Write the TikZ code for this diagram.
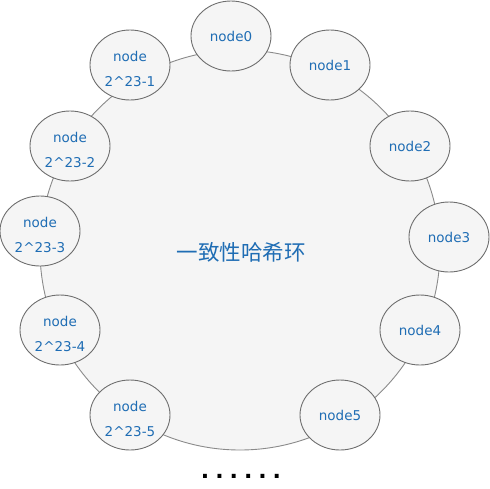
\documentclass[tikz,border=0pt]{standalone}
\usepackage{fontspec}
\usetikzlibrary{shapes.geometric}
\setmainfont{DejaVu Sans}
\newfontfamily\cjk{Noto Sans CJK SC}
\definecolor{txtblue}{HTML}{1F6DB4}
\definecolor{fillgray}{HTML}{F5F5F5}
\definecolor{ringline}{HTML}{8A8A8A}
\definecolor{nodeline}{HTML}{6E6E6E}
\begin{document}
\begin{tikzpicture}[x=1pt,y=-1pt,
  hashnode/.style={ellipse, draw=nodeline, fill=fillgray, line width=0.9pt,
    minimum width=80pt, minimum height=70pt, inner sep=0pt, text=txtblue,
    align=center, font=\fontsize{13.5}{25}\selectfont},
  twoline/.style={text=txtblue, align=center, inner sep=0pt,
    font=\fontsize{13.5}{25}\selectfont},
  ringstyle/.style={circle, draw=ringline, fill=fillgray, line width=0.9pt,
    minimum size=400pt, inner sep=0pt}]
\useasboundingbox (0,0) rectangle (490,488);
\node[ringstyle] (ring) at (240,250) {};
\node[text=txtblue, font=\cjk\fontsize{21.5}{24}\selectfont] (title) at (241,252) {一致性哈希环};
\node[hashnode] (n0) at (231,36) {node0};
\node[hashnode] (n1) at (330,65) {node1};
\node[hashnode] (n2) at (410,146) {node2};
\node[hashnode] (n3) at (449,237) {node3};
\node[hashnode] (n4) at (420,330) {node4};
\node[hashnode] (n5) at (340,415) {node5};
\node[hashnode] (m1) at (130,65) {};
\node[hashnode] (m2) at (70,146) {};
\node[hashnode] (m3) at (40,231) {};
\node[hashnode] (m4) at (60,330) {};
\node[hashnode] (m5) at (130,415) {};
\node[twoline] (t1) at ([yshift=-4pt]m1.center) {node\\2\textasciicircum23-1};
\node[twoline] (t2) at ([yshift=-4pt]m2.center) {node\\2\textasciicircum23-2};
\node[twoline] (t3) at ([yshift=-4pt]m3.center) {node\\2\textasciicircum23-3};
\node[twoline] (t4) at ([yshift=-4pt]m4.center) {node\\2\textasciicircum23-4};
\node[twoline] (t5) at ([yshift=-4pt]m5.center) {node\\2\textasciicircum23-5};
\node[font=\bfseries\fontsize{22}{22}\selectfont, inner sep=0pt, anchor=base] (dots) at (241,478)
  {.\kern6pt.\kern6pt.\kern6pt.\kern6pt.\kern6pt.};
\end{tikzpicture}
\end{document}
